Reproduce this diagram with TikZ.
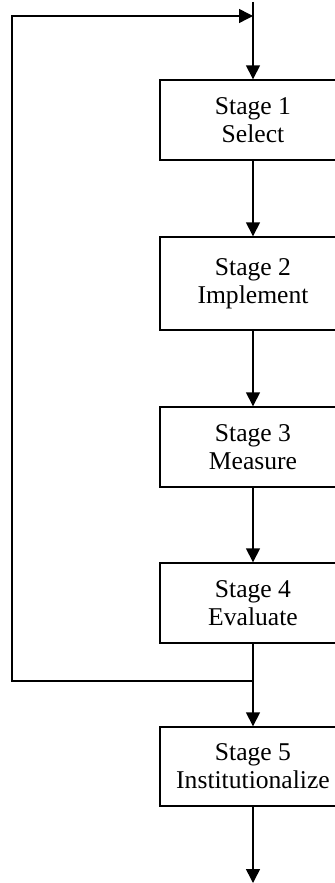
\documentclass[tikz,border=0pt]{standalone}
\usepackage{fontspec}
\setmainfont{Liberation Serif}
\usetikzlibrary{arrows.meta}
\begin{document}
\begin{tikzpicture}[x=0.5pt,y=-0.5pt,
  stagebox/.style={draw,line width=0.7pt,minimum width=93pt,inner sep=0pt,align=center,
    font=\fontsize{12.8}{14}\selectfont},
  conn/.style={line width=0.75pt,-{Triangle[length=7pt,width=7pt]}},
  plain/.style={line width=0.75pt}]
\useasboundingbox (0,0) rectangle (334,883);
\node[stagebox,minimum height=40pt] (s1) at (253,120) {Stage 1\\Select};
\node[stagebox,minimum height=46.5pt] (s2) at (253,283.5) {Stage 2\\Implement};
\node[stagebox,minimum height=40pt] (s3) at (253,447) {Stage 3\\Measure};
\node[stagebox,minimum height=40pt] (s4) at (253,603) {Stage 4\\Evaluate};
\node[stagebox,minimum height=39.5pt] (s5) at (253,766.5) {Stage 5\\Institutionalize};
\coordinate (top) at (253,2);
\coordinate (entry) at (253,16);
\coordinate (join) at (253,681);
\coordinate (cornerB) at (12,681);
\coordinate (cornerT) at (12,16);
\coordinate (out) at (253,883);
\draw[plain] (top) -- (entry);
\draw[conn] (entry) -- (s1.north);
\draw[conn] (s1) -- (s2);
\draw[conn] (s2) -- (s3);
\draw[conn] (s3) -- (s4);
\draw[conn] (s4) -- (s5);
\draw[conn] (s5) -- (out);
\draw[conn] (join) -- (cornerB) -- (cornerT) -- (entry);
\end{tikzpicture}
\end{document}
